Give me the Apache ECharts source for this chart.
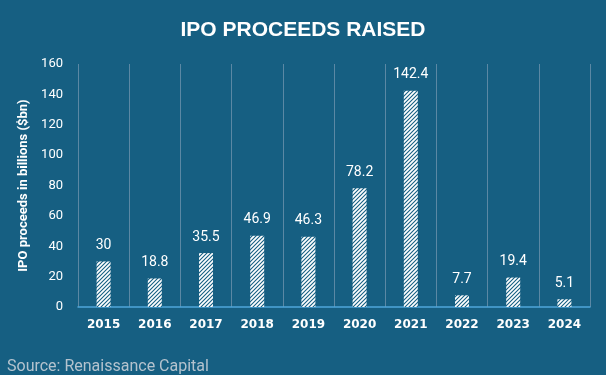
<!DOCTYPE html>
<html>
<head>
	<meta charset="utf-8">
	<title>IPO Proceeds Raised</title>
	<script src="https://cdn.jsdelivr.net/npm/echarts@6/dist/echarts.min.js"></script>
	<style>
		html, body { margin: 0; padding: 0; background: #165f82; }
		#chart { width: 606px; height: 375px; }
	</style>
</head>
<body>
	<div id="chart"></div>
	<script>
		var years = ['2015', '2016', '2017', '2018', '2019', '2020', '2021', '2022', '2023', '2024'];
		var proceeds = [30, 18.8, 35.5, 46.9, 46.3, 78.2, 142.4, 7.7, 19.4, 5.1];

		var bg = '#165f82';

		// white bar with thin diagonal stripes
		function stripes() {
			var c = document.createElement('canvas');
			c.width = 4;
			c.height = 4;
			var ctx = c.getContext('2d');
			ctx.fillStyle = '#ffffff';
			ctx.fillRect(0, 0, 4, 4);
			ctx.strokeStyle = bg;
			ctx.lineWidth = 1.1;
			ctx.beginPath();
			ctx.moveTo(-1, 5); ctx.lineTo(5, -1);
			ctx.moveTo(-1, 1); ctx.lineTo(1, -1);
			ctx.moveTo(3, 5); ctx.lineTo(5, 3);
			ctx.stroke();
			return c;
		}

		var chart = echarts.init(document.getElementById('chart'));
		chart.setOption({
			backgroundColor: bg,
			animation: false,
			title: [{
				text: 'IPO PROCEEDS RAISED',
				left: 'center',
				top: 15,
				textStyle: { color: '#ffffff', fontFamily: 'Liberation Sans', fontWeight: 'bold', fontSize: 21 }
			}, {
				text: 'Source: Renaissance Capital',
				left: 2,
				top: 354,
				textStyle: { color: '#b4c3ce', fontFamily: 'Roboto', fontWeight: 'normal', fontSize: 16 }
			}],
			grid: { left: 78, right: 16, top: 64, bottom: 68 },
			xAxis: {
				type: 'category',
				data: years,
				axisLine: { lineStyle: { color: '#4fa6da', width: 1.5 } },
				axisTick: { show: false },
				splitLine: { show: true, lineStyle: { color: '#5b88a4', width: 1 } },
				axisLabel: { color: '#ffffff', fontFamily: 'DejaVu Sans', fontWeight: 'bold', fontSize: 12, margin: 12 }
			},
			yAxis: {
				type: 'value',
				min: 0,
				max: 160,
				interval: 20,
				name: 'IPO proceeds in billions ($bn)',
				nameLocation: 'middle',
				nameGap: 40,
				nameTextStyle: { color: '#ffffff', fontFamily: 'Roboto', fontWeight: 'bold', fontSize: 13 },
				axisLine: { show: false },
				axisTick: { show: false },
				splitLine: { show: false },
				axisLabel: { color: '#ffffff', fontFamily: 'Roboto', fontSize: 13, margin: 15 }
			},
			series: [{
				type: 'bar',
				data: proceeds,
				barWidth: 14,
				itemStyle: { color: { image: stripes(), repeat: 'repeat' } },
				label: {
					show: true,
					position: 'top',
					distance: 9,
					color: '#ffffff',
					fontFamily: 'Roboto',
					fontSize: 14
				}
			}]
		});
	</script>
</body>
</html>
